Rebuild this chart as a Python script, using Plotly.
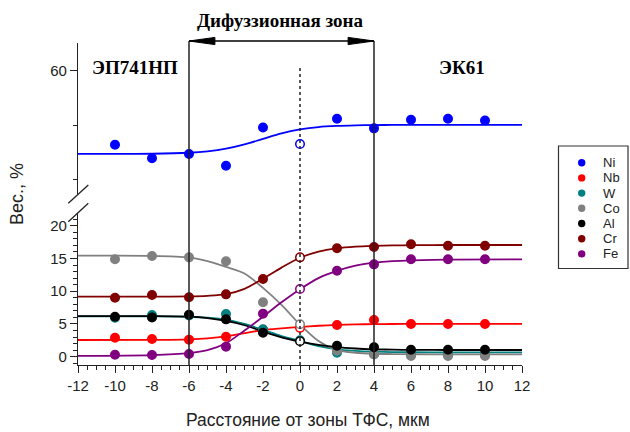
import plotly.graph_objects as go

# ---- measured composition (wt.%) at distance from the TFS zone, um ----
positions = [-10, -8, -6, -4, -2, 0, 2, 4, 6, 8, 10]

ni = [53.2, 51.96, 52.36, 51.28, 54.77, 53.27, 55.57, 54.7, 55.48, 55.57, 55.41]
nb = [2.9, 2.7, 2.6, 3.05, 4.1, 4.4, 4.84, 5.6, 5.0, 5.0, 5.0]
w = [5.95, 6.37, 6.3, 6.52, 4.2, 2.5, 0.6, 0.41, 0.3, 0.3, 0.3]
co = [14.87, 15.37, 15.17, 14.56, 8.3, 4.95, 0.9, 0.35, 0.1, 0.1, 0.1]
al = [6.1, 6.0, 6.41, 5.7, 3.65, 2.35, 1.68, 1.43, 1.07, 1.07, 1.07]
cr = [9.0, 9.42, 9.07, 9.52, 11.86, 15.17, 16.55, 16.75, 17.16, 16.95, 16.95]
fe = [0.3, 0.26, 0.41, 1.53, 6.57, 10.34, 13.13, 14.1, 14.87, 14.87, 14.87]

# ---- fitted profiles ----
curve_x = [-12, -8, -6, -5, -4, -3, -2, -1, 0, 1, 2, 3, 4, 5, 6, 8, 12]

ni_fit = [52.36, 52.38, 52.47, 52.6, 52.84, 53.23, 53.74, 54.24, 54.6, 54.82, 54.92, 54.97, 55.0, 55.01, 55.02, 55.02, 55.02]
nb_fit = [2.55, 2.56, 2.65, 2.8, 3.1, 3.6, 4.05, 4.32, 4.55, 4.72, 4.85, 4.93, 4.97, 4.99, 5.0, 5.0, 5.0]
w_fit = [6.15, 6.15, 6.1, 5.95, 5.65, 5.0, 4.1, 3.15, 2.4, 1.6, 1.1, 0.88, 0.76, 0.7, 0.68, 0.67, 0.67]
co_fit = [15.42, 15.4, 15.15, 14.6, 13.7, 12.7, 10.5, 7.9, 4.9, 2.4, 1.0, 0.6, 0.45, 0.4, 0.37, 0.35, 0.35]
al_fit = [6.2, 6.2, 6.12, 5.9, 5.45, 4.8, 3.85, 2.95, 2.3, 1.8, 1.45, 1.25, 1.13, 1.07, 1.04, 1.02, 1.02]
cr_fit = [9.16, 9.17, 9.2, 9.3, 9.55, 10.35, 11.9, 13.6, 15.1, 16.05, 16.55, 16.8, 16.92, 16.99, 17.02, 17.05, 17.05]
fe_fit = [0.12, 0.25, 0.55, 1.0, 2.05, 4.0, 6.1, 8.3, 10.3, 12.0, 13.1, 13.9, 14.35, 14.6, 14.72, 14.83, 14.87]

elements = ["Ni", "Nb", "W", "Co", "Al", "Cr", "Fe"]
colors = ["#0000FF", "#FF0000", "#008080", "#808080", "#000000", "#800000", "#800080"]
points = [ni, nb, w, co, al, cr, fe]
fits = [ni_fit, nb_fit, w_fit, co_fit, al_fit, cr_fit, fe_fit]

x_ticks = list(range(-12, 13, 2))

# ---- page geometry (pixels) ----
W_PX, H_PX = 630, 432
M_L, M_R, M_T, M_B = 78, 108, 43, 67
PLOT_W = W_PX - M_L - M_R
PLOT_H = H_PX - M_T - M_B


def px_x(px):
    return (px - M_L) / PLOT_W


def px_y(py):
    return (H_PX - M_B - py) / PLOT_H


AX = "#222222"
SANS = "Liberation Sans, Arial, sans-serif"
SERIF = "Liberation Serif, Times New Roman, serif"

fig = go.Figure()

# fitted curves (Ni on the upper segment, the rest on the lower one)
for name, col, fy in zip(elements, colors, fits):
    fig.add_trace(go.Scatter(
        x=curve_x, y=fy, mode="lines",
        line=dict(color=col, width=1.8, shape="spline", smoothing=0.8),
        yaxis="y2" if name == "Ni" else "y",
        showlegend=False, hoverinfo="skip",
    ))

# measured points; the point at the interface is drawn hollow
for name, col, py in zip(elements, colors, points):
    fills = ["white" if xv == 0 else col for xv in positions]
    fig.add_trace(go.Scatter(
        x=positions, y=py, mode="markers", name=name,
        marker=dict(size=8.5, color=fills, line=dict(color=col, width=1.5)),
        yaxis="y2" if name == "Ni" else "y",
        showlegend=False,
    ))

low_top = px_y(213)
up_bot = px_y(194)

fig.update_layout(
    width=W_PX, height=H_PX, autosize=False,
    margin=dict(l=M_L, r=M_R, t=M_T, b=M_B),
    paper_bgcolor="white", plot_bgcolor="white",
    showlegend=False,
    xaxis=dict(
        range=[-12, 12], tickvals=x_ticks, ticktext=[str(v) for v in x_ticks],
        ticks="outside", ticklen=7, tickwidth=1, tickcolor=AX,
        minor=dict(dtick=0.5, tick0=0, ticks="outside", ticklen=3.5, tickcolor=AX, tickwidth=1),
        showline=True, linecolor=AX, linewidth=1.2,
        showgrid=False, zeroline=False,
        tickfont=dict(family=SANS, size=15, color=AX),
        anchor="y",
    ),
    yaxis=dict(
        domain=[0, low_top], range=[-1.27, 21.94],
        tick0=0, dtick=5, ticks="outside", ticklen=7, tickwidth=1, tickcolor=AX,
        minor=dict(dtick=1, tick0=0, ticks="outside", ticklen=3.5, tickcolor=AX, tickwidth=1),
        showline=True, linecolor=AX, linewidth=1.2,
        showgrid=False, zeroline=False,
        tickfont=dict(family=SANS, size=15, color=AX),
        anchor="x",
    ),
    yaxis2=dict(
        domain=[up_bot, 1], range=[48.7, 62.5],
        tick0=60, dtick=20, ticks="outside", ticklen=7, tickwidth=1, tickcolor=AX,
        minor=dict(dtick=5, tick0=60, ticks="outside", ticklen=3.5, tickcolor=AX, tickwidth=1),
        showline=True, linecolor=AX, linewidth=1.2,
        showgrid=False, zeroline=False,
        tickfont=dict(family=SANS, size=15, color=AX),
        anchor="x",
    ),
)

shapes = []
arrow_y = px_y(41)

# borders of the diffusion zone and the interface line
for xb in (-6, 4):
    shapes.append(dict(type="line", xref="x", yref="paper", x0=xb, x1=xb,
                       y0=0, y1=arrow_y, line=dict(color=AX, width=1.5), layer="above"))
shapes.append(dict(type="line", xref="x", yref="paper", x0=0, x1=0,
                   y0=0, y1=px_y(68), line=dict(color=AX, width=1.5, dash="dot"), layer="above"))

# double-headed arrow over the diffusion zone
shapes.append(dict(type="line", xref="x", yref="paper", x0=-6, x1=4,
                   y0=arrow_y, y1=arrow_y, line=dict(color="black", width=1.5)))
hw = 3.6 / PLOT_H
head = 1.4
shapes.append(dict(type="path", xref="x", yref="paper",
                   path=f"M -6,{arrow_y} L {-6 + head},{arrow_y + hw} L {-6 + head},{arrow_y - hw} Z",
                   fillcolor="black", line=dict(color="black", width=1)))
shapes.append(dict(type="path", xref="x", yref="paper",
                   path=f"M 4,{arrow_y} L {4 - head},{arrow_y + hw} L {4 - head},{arrow_y - hw} Z",
                   fillcolor="black", line=dict(color="black", width=1)))

# axis break marks
for (ax0, ay0, ax1, ay1) in [(68.3, 203.3, 88.3, 185.0), (68.3, 221.7, 88.3, 203.3)]:
    shapes.append(dict(type="line", xref="paper", yref="paper",
                       x0=px_x(ax0), y0=px_y(ay0), x1=px_x(ax1), y1=px_y(ay1),
                       line=dict(color=AX, width=1.3)))

# legend frame and symbols
shapes.append(dict(type="rect", xref="paper", yref="paper",
                   x0=px_x(558.5), x1=px_x(628), y0=px_y(268.5), y1=px_y(146),
                   line=dict(color="#333333", width=1.2), fillcolor="white"))
row_y = [162.7 + 15.2 * i for i in range(len(elements))]
annotations = []
for name, col, ry in zip(elements, colors, row_y):
    shapes.append(dict(type="circle", xref="paper", yref="paper",
                       x0=px_x(578.0), x1=px_x(585.4), y0=px_y(ry + 3.7), y1=px_y(ry - 3.7),
                       fillcolor=col, line=dict(color=col, width=0)))
    annotations.append(dict(text=name, xref="paper", yref="paper",
                            x=px_x(601), y=px_y(ry), xanchor="left", yanchor="middle",
                            showarrow=False, font=dict(family=SANS, size=13, color=AX)))

annotations += [
    dict(text="<b>Дифуззионная зона</b>", xref="paper", yref="paper",
         x=px_x(280), y=px_y(21), xanchor="center", yanchor="middle", showarrow=False,
         font=dict(family=SERIF, size=19, color="black")),
    dict(text="<b>ЭП741НП</b>", xref="paper", yref="paper",
         x=px_x(134.5), y=px_y(67.5), xanchor="center", yanchor="middle", showarrow=False,
         font=dict(family=SERIF, size=19, color="black")),
    dict(text="<b>ЭК61</b>", xref="paper", yref="paper",
         x=px_x(462), y=px_y(67.5), xanchor="center", yanchor="middle", showarrow=False,
         font=dict(family=SERIF, size=19, color="black")),
    dict(text="Вес., %", xref="paper", yref="paper", textangle=-90,
         x=px_x(17), y=px_y(194), xanchor="center", yanchor="middle", showarrow=False,
         font=dict(family=SANS, size=18, color=AX)),
    dict(text="Расстояние от зоны ТФС, мкм", xref="paper", yref="paper",
         x=px_x(307.5), y=px_y(420.5), xanchor="center", yanchor="middle", showarrow=False,
         font=dict(family=SANS, size=17.5, color=AX)),
]

fig.update_layout(shapes=shapes, annotations=annotations)

fig.write_html("out.html")
